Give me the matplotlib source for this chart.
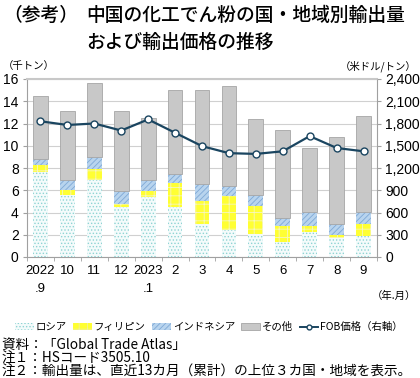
import matplotlib
matplotlib.use("Agg")
import matplotlib.pyplot as plt
from matplotlib.patches import Patch
from matplotlib.lines import Line2D
from matplotlib.ticker import FuncFormatter
import numpy as np

plt.rcParams['font.family'] = ['Liberation Sans', 'Noto Sans CJK JP', 'DejaVu Sans']
plt.rcParams['hatch.linewidth'] = 0.6

months = ["2022\n.9", "10", "11", "12", "2023\n.1", "2", "3", "4", "5", "6", "7", "8", "9"]
russia = [7.65, 5.55, 6.95, 4.45, 5.4, 4.5, 3.0, 2.4, 2.05, 1.35, 2.25, 1.75, 1.9]
philippines = [0.65, 0.45, 1.0, 0.3, 0.5, 2.15, 2.05, 3.1, 2.55, 1.4, 0.55, 0.25, 1.05]
indonesia = [0.5, 0.95, 1.0, 1.15, 1.05, 0.85, 1.5, 0.9, 0.95, 0.8, 1.25, 1.0, 1.1]
others = [5.7, 6.2, 6.65, 7.2, 5.5, 7.55, 8.5, 8.95, 6.85, 7.9, 5.75, 7.75, 8.65]
fob_price = [1830, 1780, 1800, 1705, 1855, 1675, 1495, 1400, 1390, 1425, 1630, 1470, 1425]

fig = plt.figure(figsize=(4.2, 3.78), dpi=100)
ax = fig.add_axes([27/420, 1-257/378, 350/420, 178/378])
x = np.arange(len(months))
w = 0.55

r = np.array(russia); p = np.array(philippines); i_ = np.array(indonesia); o = np.array(others)
ax.bar(x, r, w, color='#f4fbfb', edgecolor='#8fd3d3', hatch='.....', linewidth=0, zorder=3)
ax.bar(x, p, w, bottom=r, color='#ffff33', edgecolor='#f6f6c0', hatch='++', linewidth=0, zorder=3)
ax.bar(x, i_, w, bottom=r+p, color='#b8d4ee', edgecolor='#7fa9d6', hatch='//////', linewidth=0, zorder=3)
ax.bar(x, o, w, bottom=r+p+i_, color='#c8c8c8', edgecolor='#a6a6a6', linewidth=0.6, zorder=3)

ax.set_xlim(-0.5, 12.5)
ax.set_ylim(0, 16)
ax.set_yticks(range(0, 17, 2))
ax.yaxis.grid(True, color='#d0d0d0', linewidth=0.8, zorder=0)
ax.set_axisbelow(True)
ax.set_xticks(x)
ax.set_xticklabels(months, fontsize=9.5, linespacing=1.6)
ax.set_xticks(np.arange(-0.5, 13, 1), minor=True)
ax.tick_params(axis='x', which='major', length=0, pad=6)
ax.tick_params(axis='x', which='minor', length=3, color='#a0a0a0')
ax.tick_params(axis='y', labelsize=10, length=3, color='#a0a0a0', pad=3)
for s in ['left', 'bottom', 'right']:
    ax.spines[s].set_color('#a0a0a0')
ax.spines['top'].set_color('#c8c8c8')
ax.spines['top'].set_linewidth(1.5)

ax2 = ax.twinx()
ax2.set_ylim(0, 2400)
ax2.set_yticks(range(0, 2401, 300))
ax2.yaxis.set_major_formatter(FuncFormatter(lambda v, _: f"{int(v):,}"))
ax2.tick_params(axis='y', labelsize=10, length=3, color='#a0a0a0', pad=3)
for s in ax2.spines.values():
    s.set_visible(False)
ax2.plot(x, fob_price, color='#1a4560', linewidth=1.6, marker='o', markersize=5,
         markerfacecolor='white', markeredgecolor='#1a4560', markeredgewidth=1.0, zorder=5)

tfont = dict(fontsize=13.5, fontweight='medium', va='center', ha='left', family=['Noto Sans CJK JP'])
fig.text(3/420, 1-15/378, "（参考）", **tfont)
fig.text(86/420, 1-15/378, "中国の化工でん粉の国・地域別輸出量", **tfont)
fig.text(86/420, 1-42/378, "および輸出価格の推移", **tfont)

fig.text(3/420, 1-66/378, "（千トン）", fontsize=7.5, va='center', ha='left', family=['Noto Sans CJK JP'])
fig.text(417/420, 1-66/378, "（米ドル/トン）", fontsize=7.5, va='center', ha='right', family=['Noto Sans CJK JP'])
fig.text(416/420, 1-296/378, "（年.月）", fontsize=7.5, va='center', ha='right', family=['Noto Sans CJK JP'])

handles = [
    Patch(facecolor='#f4fbfb', edgecolor='#8fd3d3', hatch='.....', linewidth=0),
    Patch(facecolor='#ffff33', edgecolor='#f0f0a0', hatch='++', linewidth=0),
    Patch(facecolor='#b8d4ee', edgecolor='#7fa9d6', hatch='//////', linewidth=0),
    Patch(facecolor='#c8c8c8', edgecolor='#a6a6a6', linewidth=0.6),
    Line2D([0], [0], color='#1a4560', linewidth=1.4, marker='o', markersize=3.5,
           markerfacecolor='white', markeredgecolor='#1a4560'),
]
labels = ["ロシア", "フィリピン", "インドネシア", "その他", "FOB価格（右軸）"]
fig.legend(handles, labels, loc='center', bbox_to_anchor=(209/420, 1-327/378), ncol=5,
           frameon=False, handlelength=1.8, handleheight=0.55, handletextpad=0.2,
           columnspacing=0.6, prop={'family': ['Noto Sans CJK JP'], 'size': 7.5})

notes = ["資料：「Global Trade Atlas」", "注１：HSコード3505.10",
         "注２：輸出量は、直近13カ月（累計）の上位３カ国・地域を表示。"]
for k, t in enumerate(notes):
    fig.text(2/420, 1-(345+13.5*k)/378, t, fontsize=9.8, va='center', ha='left',
             family=['Noto Sans CJK JP'])

fig.savefig("out.png", dpi=100)
